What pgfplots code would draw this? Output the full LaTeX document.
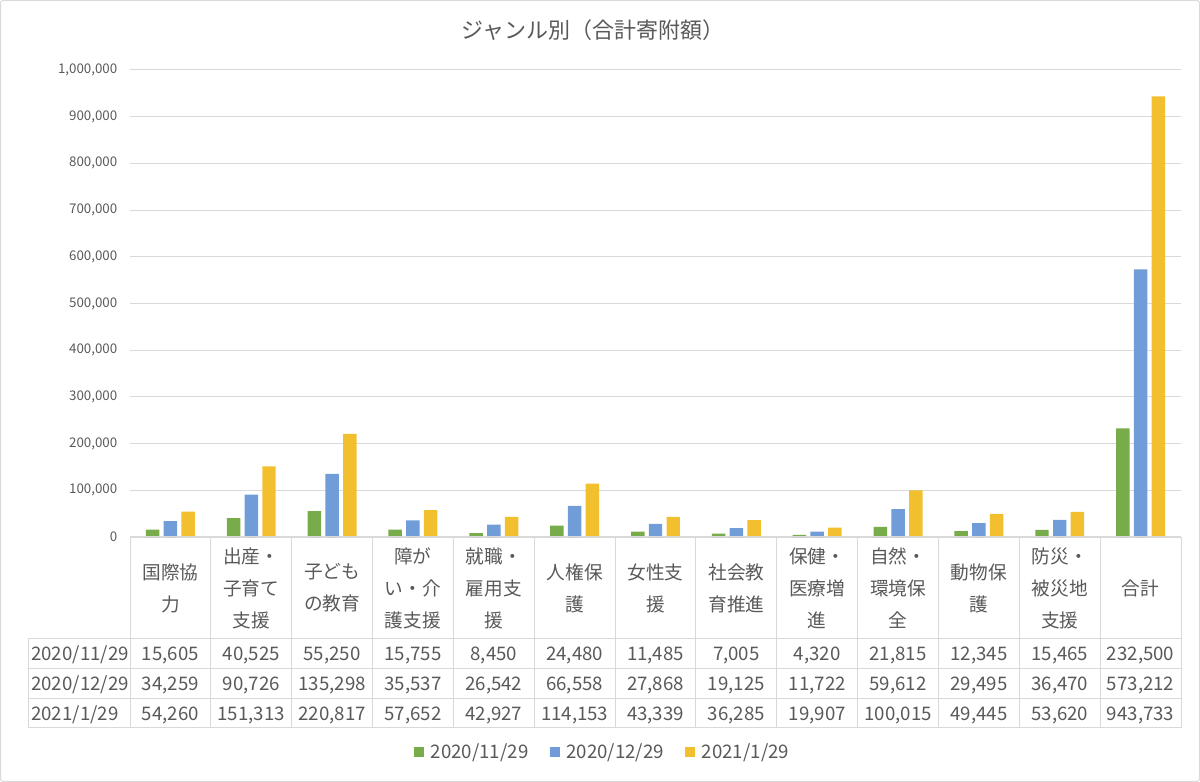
\documentclass[border=0pt]{standalone}
\usepackage{fontspec}
\setmainfont{Noto Sans CJK JP}
\usepackage{pgfplots}
\usepackage{pgfplotstable}
\pgfplotsset{compat=1.18}
\definecolor{cg}{RGB}{120,172,74}
\definecolor{cb}{RGB}{112,157,216}
\definecolor{cy}{RGB}{242,192,46}
\definecolor{txt}{RGB}{89,89,89}
\definecolor{gridc}{RGB}{217,217,217}

\pgfplotstableread{
idx g b y
1 15605 34259 54260
2 40525 90726 151313
3 55250 135298 220817
4 15755 35537 57652
5 8450 26542 42927
6 24480 66558 114153
7 11485 27868 43339
8 7005 19125 36285
9 4320 11722 19907
10 21815 59612 100015
11 12345 29495 49445
12 15465 36470 53620
13 232500 573212 943733
}\data

\begin{document}
\begin{tikzpicture}
\begin{axis}[
  at={(97.5pt,183.75pt)}, anchor=south west, scale only axis,
  width=788.25pt, height=350.25pt,
  xmin=0.5, xmax=13.5, ymin=0, ymax=1000000,
  ybar=3.2pt, bar width=10.1pt,
  axis line style={draw=none}, tick style={draw=none},
  xtick=\empty,
  ytick={0,100000,200000,300000,400000,500000,600000,700000,800000,900000,1000000},
  ymajorgrids, grid style={gridc, line width=0.75pt},
  scaled y ticks=false,
  yticklabel style={/pgf/number format/fixed, /pgf/number format/1000 sep={,}, /pgf/number format/assume math mode=true,
    font=\fontsize{10}{12}\selectfont, text=txt, xshift=-6pt},
  clip=false,
  sq/.style={fill=#1, draw=none, legend image code/.code={\fill[#1] (0pt,-3.75pt) rectangle (7.5pt,3.75pt);}},
  legend style={at={(0.45,-0.46)}, anchor=center, legend columns=3, draw=none,
    font=\fontsize{14}{17}\selectfont, text=txt,
    /tikz/every odd column/.append style={column sep=3pt},
    /tikz/every even column/.append style={column sep=14pt}},
]
\addplot[sq=cg] table[x=idx, y=g] {\data};
\addplot[sq=cb] table[x=idx, y=b] {\data};
\addplot[sq=cy] table[x=idx, y=y] {\data};
\legend{2020/11/29, 2020/12/29, 2021/1/29}
\end{axis}
\begin{scope}[x=0.75pt,y=0.75pt]
\draw[gridc, line width=0.75pt, rounded corners=2pt] (0.5,0.5) rectangle (1199.5,781.5);
\node[font=\fontsize{16.5}{19}\selectfont, text=txt] at (593,752) {ジャンル別（合計寄附額）};
% table grid
\begin{scope}[gridc, line width=0.75pt]
\foreach \yy in {143,113,83,54} \draw (28,\yy) -- (1181,\yy);
\draw (130,245) -- (1181,245);
\foreach \k in {0,...,13} \draw ({130+\k*80.85},245) -- ({130+\k*80.85},54);
\draw (28,143) -- (28,54);
\end{scope}
% header labels
\foreach \i/\t in {1/{国際協\\力}, 2/{出産・\\子育て\\支援}, 3/{子ども\\の教育}, 4/{障が\\い・介\\護支援},
  5/{就職・\\雇用支\\援}, 6/{人権保\\護}, 7/{女性支\\援}, 8/{社会教\\育推進}, 9/{保健・\\医療増\\進},
  10/{自然・\\環境保\\全}, 11/{動物保\\護}, 12/{防災・\\被災地\\支援}, 13/{合計}}
  \node[align=center, font=\fontsize{14}{24}\selectfont, text=txt] at ({130+(\i-0.5)*80.85},194) {\t};
% row labels
\foreach \r/\yy in {{2020/11/29}/128, {2020/12/29}/98, {2021/1/29}/68.5}
  \node[anchor=base west, inner sep=0pt, font=\fontsize{14}{17}\selectfont, text=txt] at (31,{\yy-6.8}) {\r};
% values
\foreach \i/\a/\b/\c in {1/{15,605}/{34,259}/{54,260}, 2/{40,525}/{90,726}/{151,313},
  3/{55,250}/{135,298}/{220,817}, 4/{15,755}/{35,537}/{57,652}, 5/{8,450}/{26,542}/{42,927},
  6/{24,480}/{66,558}/{114,153}, 7/{11,485}/{27,868}/{43,339}, 8/{7,005}/{19,125}/{36,285},
  9/{4,320}/{11,722}/{19,907}, 10/{21,815}/{59,612}/{100,015}, 11/{12,345}/{29,495}/{49,445},
  12/{15,465}/{36,470}/{53,620}, 13/{232,500}/{573,212}/{943,733}} {
  \node[anchor=base, inner sep=0pt, font=\fontsize{14}{17}\selectfont, text=txt] at ({130+(\i-0.5)*80.85},{128-6.8}) {\a};
  \node[anchor=base, inner sep=0pt, font=\fontsize{14}{17}\selectfont, text=txt] at ({130+(\i-0.5)*80.85},{98-6.8}) {\b};
  \node[anchor=base, inner sep=0pt, font=\fontsize{14}{17}\selectfont, text=txt] at ({130+(\i-0.5)*80.85},{68.5-6.8}) {\c};
}
\end{scope}
\end{tikzpicture}
\end{document}
